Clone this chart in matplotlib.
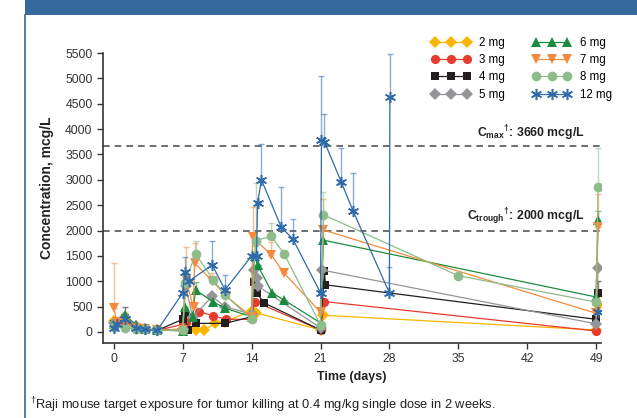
import numpy as np
import matplotlib
matplotlib.use('Agg')
import matplotlib.pyplot as plt
from matplotlib.colors import to_rgba
from matplotlib.patches import Rectangle
from matplotlib.lines import Line2D

plt.rcParams['font.family'] = ['Liberation Sans', 'DejaVu Sans']
plt.rcParams['mathtext.fontset'] = 'custom'
plt.rcParams['mathtext.rm'] = 'Liberation Sans'
plt.rcParams['mathtext.bf'] = 'Liberation Sans:bold'

# ---- data ----
labels = ["2 mg", "3 mg", "4 mg", "5 mg", "6 mg", "7 mg", "8 mg", "12 mg"]

days_2 = [0, 1.1, 2.3, 3.2, 4.4, 7, 7.3, 8.3, 9.2, 10.3, 11.3, 14, 14.4, 21, 21.3, 49, 49.2]
conc_2 = [220, 250, 100, 60, 40, 60, 150, 40, 40, 170, 200, 420, 380, 40, 330, 40, 540]
err_2 = [0, 150, 0, 0, 0, 0, 0, 60, 0, 0, 0, 0, 0, 0, 0, 0, 150]

days_3 = [0, 1.1, 2.3, 3.2, 4.4, 7, 7.3, 8.7, 10.1, 11.4, 14, 14.3, 21, 21.4, 49]
conc_3 = [150, 180, 80, 60, 30, 150, 200, 400, 320, 250, 250, 600, 40, 600, 20]
err_3 = [0, 0, 0, 0, 0, 0, 0, 60, 0, 0, 0, 0, 0, 0, 0]

days_4 = [0, 1.1, 2.3, 3.2, 4.4, 7, 7.2, 7.5, 8.4, 11.3, 14, 14.2, 14.5, 15.3, 21, 21.4, 21.5, 49, 49.2]
conc_4 = [150, 270, 100, 50, 30, 250, 370, 40, 170, 170, 300, 990, 770, 570, 40, 1200, 930, 250, 770]
err_4 = [0, 230, 0, 0, 0, 0, 0, 0, 0, 0, 0, 150, 0, 0, 0, 0, 0, 0, 230]

days_5 = [0, 1.1, 2.3, 3.2, 4.4, 7, 7.3, 8, 10, 11.3, 14, 14.2, 14.5, 14.6, 21, 21.2, 49, 49.2]
conc_5 = [180, 300, 120, 60, 40, 50, 900, 300, 700, 500, 350, 1220, 1060, 910, 80, 1220, 160, 1260]
err_5 = [0, 80, 0, 0, 0, 0, 0, 0, 0, 0, 0, 0, 0, 0, 0, 0, 0, 0]

days_6 = [0, 1.1, 2.3, 3.2, 4.4, 7, 7.2, 8, 8.3, 10.1, 11.3, 14, 14.3, 14.6, 16.1, 17.3, 21, 21.3, 49, 49.2]
conc_6 = [150, 330, 140, 60, 40, 20, 500, 300, 830, 590, 470, 300, 1500, 1320, 770, 630, 180, 1810, 690, 2210]
err_6 = [0, 0, 0, 0, 0, 0, 0, 0, 150, 150, 0, 0, 200, 0, 0, 0, 0, 0, 0, 180]

days_7 = [0, 0.3, 1.1, 2.3, 3.2, 4.4, 7, 7.3, 8.1, 8.2, 10, 11.4, 14, 14.1, 16, 17.3, 21, 21.3, 49, 49.2]
conc_7 = [470, 200, 180, 80, 50, 40, 40, 1040, 490, 1360, 1010, 710, 300, 1870, 1520, 1160, 390, 2010, 370, 2070]
err_7 = [890, 0, 0, 0, 0, 0, 0, 640, 0, 400, 150, 0, 0, 590, 250, 0, 0, 610, 0, 650]

days_8 = [0, 1.1, 2.3, 3.2, 4.4, 7, 7.2, 8.3, 10.1, 11.3, 14, 14.4, 16, 17.3, 21, 21.3, 35, 49, 49.2]
conc_8 = [100, 80, 60, 50, 40, 30, 960, 1540, 1030, 730, 250, 1800, 1890, 1540, 140, 2310, 1110, 590, 2860]
err_8 = [0, 0, 0, 0, 0, 0, 0, 250, 0, 0, 0, 1140, 260, 0, 0, 450, 0, 0, 770]

days_12 = [0, 0.3, 1.1, 2.3, 3.2, 4.4, 7, 7.2, 7.6, 10, 11.3, 14, 14.5, 14.6, 15, 17, 18.2, 21, 21.1, 21.4, 23.1, 24.3, 28, 28.05]
conc_12 = [80, 150, 250, 80, 50, 30, 770, 1180, 1000, 1320, 830, 1500, 1500, 2540, 3000, 2070, 1830, 770, 3790, 3750, 2960, 2390, 770, 4640]
err_12 = [0, 0, 0, 0, 0, 0, 0, 300, 0, 470, 300, 0, 0, 0, 710, 790, 400, 0, 1260, 550, 670, 750, 510, 840]
days_12_end = [49.2]
conc_12_end = [390]

cmax = 3660
ctrough = 2000

colors = ["#F7B500", "#E63B2E", "#231F20", "#939598",
          "#1B8C3F", "#F58A3C", "#8FBC8B", "#2F6BA8"]
markers = ["D", "o", "s", "D", "^", "v", "o", (6, 2, 0)]
msizes = [5.8, 6.6, 6, 5.8, 7.2, 7.6, 7, 8]

series = [(days_2, conc_2, err_2), (days_3, conc_3, err_3), (days_4, conc_4, err_4),
          (days_5, conc_5, err_5), (days_6, conc_6, err_6), (days_7, conc_7, err_7),
          (days_8, conc_8, err_8), (days_12, conc_12, err_12)]

fig = plt.figure(figsize=(6.37, 4.18), dpi=100)

# header band and panel border
fig.patches.append(Rectangle((25 / 637, 1 - 15 / 418), 1, 15 / 418, transform=fig.transFigure,
                             facecolor="#35689B", edgecolor="none"))
fig.lines.append(Line2D([25 / 637, 25 / 637], [0, 1 - 15 / 418], transform=fig.transFigure,
                        color="#35689B", lw=1.2))

ax = fig.add_axes([103 / 637, 1 - 343 / 418, (601 - 103) / 637, (343 - 53) / 418])

for i, (d, c, e) in enumerate(series):
    col = colors[i]
    mk = markers[i]
    mew = 1.1 if i == 7 else 0
    e = np.array(e, dtype=float)
    ax.errorbar(d, c, yerr=[np.zeros_like(e), e], fmt="none",
                ecolor=to_rgba(col, 0.55), elinewidth=1.0, capsize=2.5, capthick=1.0, zorder=2)
    ax.plot(d, c, color=col, lw=0.9, marker=mk, ms=msizes[i], mfc=col,
            mec=col, mew=mew, zorder=3, label=labels[i])

ax.plot(days_12_end, conc_12_end, ls="none", marker=markers[7], ms=msizes[7],
        mec=colors[7], mew=1.1, zorder=3)

ax.axhline(cmax, color="#555555", ls=(0, (4, 3)), lw=1.2, zorder=1)
ax.axhline(ctrough, color="#555555", ls=(0, (4, 3)), lw=1.2, zorder=1)
ax.text(47.8, cmax + 70, r"C$_{\mathbf{max}}$$^{\mathbf{\dagger}}$: 3660 mcg/L", ha="right", va="bottom",
        fontsize=8.8, fontweight="bold", color="#222222")
ax.text(47.8, ctrough + 70, r"C$_{\mathbf{trough}}$$^{\mathbf{\dagger}}$: 2000 mcg/L", ha="right",
        va="bottom", fontsize=8.8, fontweight="bold", color="#222222")

ax.set_xlim(-1.1, 49.5)
ax.set_ylim(-217, 5500)
ax.set_xticks(range(0, 50, 7))
ax.set_yticks(range(0, 5501, 500))
ax.spines["top"].set_visible(False)
ax.spines["right"].set_visible(False)
for s in ["left", "bottom"]:
    ax.spines[s].set_color("#333333")
    ax.spines[s].set_linewidth(1.2)
ax.tick_params(labelsize=8.8, colors="#333333", length=4, width=1.0)

fig.text(47 / 637, 1 - 188 / 418, "Concentration, mcg/L", rotation=90, ha="center", va="center",
         fontsize=10, fontweight="bold", color="#222222")
fig.text(352 / 637, 1 - 377 / 418, "Time (days)", ha="center", va="center",
         fontsize=9, fontweight="bold", color="#222222")
fig.text(30 / 637, 1 - 405 / 418, r"$^{\dagger}$Raji mouse target exposure for tumor killing at 0.4 mg/kg single dose in 2 weeks.",
         ha="left", va="center", fontsize=9.3, color="#222222")

handles, labs = ax.get_legend_handles_labels()
fig.legend(handles, labs, ncol=2, loc="upper left", bbox_to_anchor=(432 / 637, 1 - 37 / 418),
           frameon=False, numpoints=3, fontsize=8.3, handlelength=3.3, handletextpad=0.8,
           labelspacing=0.45, columnspacing=2.4, borderpad=0, borderaxespad=0)

fig.savefig("out.png", dpi=100)
